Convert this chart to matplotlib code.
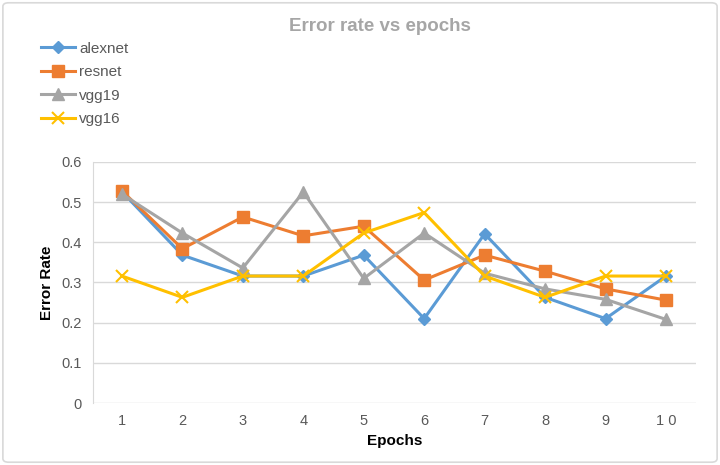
import matplotlib
matplotlib.use("Agg")
import matplotlib.pyplot as plt
from matplotlib.patches import FancyBboxPatch

plt.rcParams['font.family'] = ['Liberation Sans Narrow', 'Liberation Sans', 'DejaVu Sans']

epochs = [1, 2, 3, 4, 5, 6, 7, 8, 9, 10]
alexnet = [0.526, 0.368, 0.316, 0.316, 0.368, 0.210, 0.421, 0.263, 0.210, 0.316]
resnet = [0.528, 0.384, 0.463, 0.416, 0.440, 0.306, 0.368, 0.328, 0.284, 0.256]
vgg19 = [0.520, 0.423, 0.336, 0.525, 0.310, 0.423, 0.323, 0.284, 0.258, 0.208]
vgg16 = [0.316, 0.263, 0.316, 0.316, 0.423, 0.474, 0.316, 0.263, 0.316, 0.316]

fig = plt.figure(figsize=(7.2, 4.65), dpi=100)
ax = fig.add_axes([0.129, 0.1333, 0.838, 0.5185])

# light rounded frame around the whole chart
fig.patches.append(FancyBboxPatch((0.004, 0.006), 0.992, 0.988, boxstyle="round,pad=0,rounding_size=0.008",
                                  transform=fig.transFigure, fill=False, ec='#D9D9D9', lw=1.2))

ax.plot(epochs, alexnet, color='#5B9BD5', lw=2.2, marker='D', ms=6, label='alexnet', zorder=3)
ax.plot(epochs, resnet, color='#ED7D31', lw=2.2, marker='s', ms=8, label='resnet', zorder=3)
ax.plot(epochs, vgg19, color='#A5A5A5', lw=2.2, marker='^', ms=8, label='vgg19', zorder=3)
ax.plot(epochs, vgg16, color='#FFC000', lw=2.2, marker='x', ms=8, mew=1.5, label='vgg16', zorder=3)

ax.set_xlim(0.52, 10.5)
ax.set_ylim(0, 0.6)
ax.set_xticks(epochs)
ax.set_xticklabels([str(e) if e < 10 else '1 0' for e in epochs])
ax.set_yticks([0, 0.1, 0.2, 0.3, 0.4, 0.5, 0.6])
ax.set_yticklabels(['0', '0.1', '0.2', '0.3', '0.4', '0.5', '0.6'])
ax.tick_params(length=0, labelsize=10.5, colors='#595959', pad=8)
ax.grid(axis='y', color='#D9D9D9', lw=1)
for s in ['top', 'right', 'bottom']:
    ax.spines[s].set_visible(False)
ax.spines['left'].set_color('#D9D9D9')
ax.set_axisbelow(True)

ax.set_xlabel('Epochs', fontsize=11, fontweight='bold', color='black', labelpad=4)
ax.set_ylabel('Error Rate', fontsize=11, fontweight='bold', color='black', labelpad=5)

fig.text(0.528, 0.942, 'Error rate vs epochs', ha='center', va='center', fontsize=13.5,
         fontweight='bold', color='#A6A6A6')

fig.legend(loc='upper left', bbox_to_anchor=(0.038, 0.94), frameon=False, fontsize=11,
           handlelength=2.2, handletextpad=0.3, labelspacing=0.62, labelcolor='#595959')

fig.savefig('out.png', dpi=100)
